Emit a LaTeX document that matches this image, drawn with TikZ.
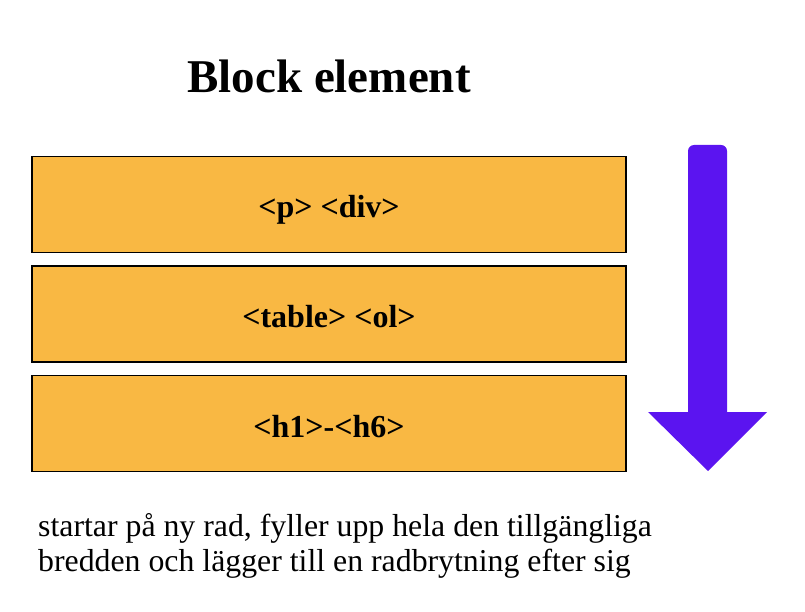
\documentclass[tikz,border=0pt]{standalone}
\usepackage{fontspec}
\setmainfont{Liberation Serif}
\definecolor{blockfill}{HTML}{F9B843}
\definecolor{arrowfill}{HTML}{5B14F0}
\begin{document}
\begin{tikzpicture}[
  x=1pt, y=-1pt,
  blockbox/.style={draw=black, line width=1.8pt, fill=blockfill,
    minimum width=594pt, minimum height=96pt, inner sep=0pt,
    text height=30pt, text depth=3pt,
    font=\fontsize{32}{38}\selectfont\bfseries},
  note/.style={anchor=base west, inner sep=0pt,
    font=\fontsize{31.8}{38}\selectfont}]
  \useasboundingbox (0,0) rectangle (805,612);
  % Heading
  \node[anchor=base, inner sep=0pt, font=\fontsize{47}{56}\selectfont\bfseries]
    (title) at (329,93) {Block element};
  % The three stacked blocks
  \node[blockbox] (pdiv) at (329,204.5) {<p> <div>};
  \node[blockbox] (tableol) at (329,314) {<table> <ol>};
  \node[blockbox] (hone) at (329,423.5) {<h1>-<h6>};
  % Downward arrow beside the blocks
  \fill[arrowfill, rounded corners=6pt] (688,412) -- (688,145) -- (727,145)
    [sharp corners] -- (727,412) -- (767,412) -- (708,471) -- (648,412) -- cycle;
  % Explanation below
  \node[note] (lineone) at (38,536) {startar på ny rad, fyller upp hela den tillgängliga};
  \node[note] (linetwo) at (38,571) {bredden och lägger till en radbrytning efter sig};
\end{tikzpicture}
\end{document}
